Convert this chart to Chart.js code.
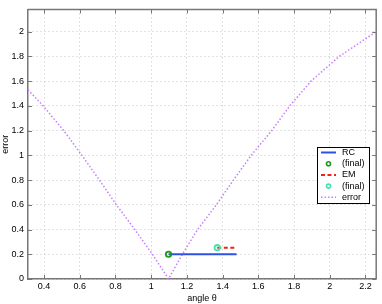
<!DOCTYPE html>
<html>
<head>
<meta charset="utf-8">
<script src="https://cdn.jsdelivr.net/npm/chart.js@4"></script>
<style>
  body { margin: 0; background: #fff; }
</style>
</head>
<body>
<canvas id="chart-error" width="382" height="304"></canvas>
<script>
// values
const errTheta = [0.31, 0.395, 0.51, 0.612, 0.71, 0.805, 0.908, 1.007, 1.097,
                  1.174, 1.26, 1.365, 1.46, 1.56, 1.675, 1.776, 1.895, 2.053, 2.26];
const errValue = [1.53, 1.40, 1.20, 1.00, 0.80, 0.60, 0.40, 0.20, 0.00,
                  0.20, 0.40, 0.60, 0.80, 1.00, 1.20, 1.40, 1.60, 1.80, 2.00];
const rcTheta = [1.097, 1.478];
const rcError = [0.2, 0.2];
const rcFinalTheta = [1.097];
const rcFinalError = [0.2];
const emTheta = [1.37, 1.478];
const emError = [0.253, 0.253];
const emFinalTheta = [1.37];
const emFinalError = [0.253];
const xTicks = [0.4, 0.6, 0.8, 1, 1.2, 1.4, 1.6, 1.8, 2, 2.2];
const yTicks = [0, 0.2, 0.4, 0.6, 0.8, 1, 1.2, 1.4, 1.6, 1.8, 2];
const xMin = 0.31, xMax = 2.26, yMin = 0, yMax = 2.18;

const pts = (xs, ys) => xs.map((x, i) => ({ x: x, y: ys[i] }));
const tickFont = { family: "'Liberation Sans', Arial, sans-serif", size: 9 };
const frameColor = "#777";

// top/right box + inward tick marks like the original
const framePlugin = {
    id: "frame",
    afterDatasetsDraw(chart) {
        const { ctx, chartArea: a, scales } = chart;
        ctx.save();
        ctx.strokeStyle = frameColor;
        ctx.lineWidth = 1.5;
        ctx.beginPath();
        ctx.moveTo(a.left, a.top);
        ctx.lineTo(a.right, a.top);
        ctx.lineTo(a.right, a.bottom);
        ctx.stroke();
        ctx.lineWidth = 1;
        ctx.beginPath();
        xTicks.forEach((v) => {
            const px = Math.round(scales.x.getPixelForValue(v)) + 0.5;
            ctx.moveTo(px, a.bottom); ctx.lineTo(px, a.bottom - 4);
            ctx.moveTo(px, a.top); ctx.lineTo(px, a.top + 4);
        });
        yTicks.forEach((v) => {
            const py = Math.round(scales.y.getPixelForValue(v)) + 0.5;
            ctx.moveTo(a.left, py); ctx.lineTo(a.left + 4, py);
            ctx.moveTo(a.right, py); ctx.lineTo(a.right - 4, py);
        });
        ctx.stroke();
        ctx.restore();
    },
};

// boxed legend inside the plot, right side
const legendPlugin = {
    id: "boxLegend",
    afterDraw(chart) {
        const ctx = chart.ctx;
        const bx = 317, by = 147, bw = 52, bh = 56, row = 11.2;
        ctx.save();
        ctx.fillStyle = "#fff";
        ctx.fillRect(bx, by, bw, bh);
        ctx.strokeStyle = "#000";
        ctx.lineWidth = 1;
        ctx.strokeRect(bx + 0.5, by + 0.5, bw, bh);
        ctx.font = "9px 'Liberation Sans', Arial, sans-serif";
        ctx.textBaseline = "middle";
        ctx.fillStyle = "#000";
        chart.data.datasets.forEach((ds, i) => {
            const y = by + 5.5 + i * row;
            if (ds.showLine) {
                ctx.strokeStyle = ds.borderColor;
                ctx.lineWidth = ds.borderWidth;
                ctx.setLineDash(ds.borderDash || []);
                ctx.beginPath();
                ctx.moveTo(321, y);
                ctx.lineTo(336, y);
                ctx.stroke();
                ctx.setLineDash([]);
            } else {
                ctx.strokeStyle = ds.pointBorderColor;
                ctx.lineWidth = 1.6;
                ctx.beginPath();
                ctx.arc(328.5, y, 2, 0, Math.PI * 2);
                ctx.stroke();
            }
            ctx.fillText(ds.label, 342, y);
        });
        ctx.restore();
    },
};

new Chart(document.getElementById("chart-error"), {
    type: "scatter",
    data: {
        datasets: [
            {
                label: "RC",
                data: pts(rcTheta, rcError),
                showLine: true,
                borderColor: "#2f4fe6",
                borderWidth: 2,
                pointRadius: 0,
                order: 1,
            },
            {
                label: "(final)",
                data: pts(rcFinalTheta, rcFinalError),
                showLine: false,
                pointRadius: 2.7,
                pointBorderWidth: 1.8,
                pointBorderColor: "#1a9a1a",
                pointBackgroundColor: "rgba(0,0,0,0)",
                order: 0,
            },
            {
                label: "EM",
                data: pts(emTheta, emError),
                showLine: true,
                borderColor: "#ee2222",
                borderWidth: 2,
                borderDash: [4, 2.5],
                pointRadius: 0,
                order: 1,
            },
            {
                label: "(final)",
                data: pts(emFinalTheta, emFinalError),
                showLine: false,
                pointRadius: 2.7,
                pointBorderWidth: 1.8,
                pointBorderColor: "#3ee8a8",
                pointBackgroundColor: "rgba(0,0,0,0)",
                order: 0,
            },
            {
                label: "error",
                data: pts(errTheta, errValue),
                showLine: true,
                borderColor: "#c77dff",
                borderWidth: 1.5,
                borderDash: [1.5, 2],
                pointRadius: 0,
                order: 2,
            },
        ],
    },
    options: {
        responsive: false,
        animation: false,
        layout: { padding: { top: 3, right: 3, left: 0, bottom: 0 } },
        plugins: { legend: { display: false }, tooltip: { enabled: false } },
        scales: {
            x: {
                type: "linear",
                min: xMin,
                max: xMax,
                afterBuildTicks: (s) => { s.ticks = xTicks.map((v) => ({ value: v })); },
                afterFit: (s) => { s.height = 25; },
                ticks: { font: tickFont, color: "#000", padding: 2, autoSkip: false, maxRotation: 0, callback: (v) => String(v) },
                grid: { color: "#c4c4c4", drawTicks: false, lineWidth: 1 },
                border: { display: true, color: frameColor, width: 1.5, dash: [1, 3] },
                title: { display: true, text: "angle θ", font: tickFont, color: "#000", padding: 0 },
            },
            y: {
                type: "linear",
                min: yMin,
                max: yMax,
                afterBuildTicks: (s) => { s.ticks = yTicks.map((v) => ({ value: v })); },
                afterFit: (s) => { s.width = 28; },
                ticks: { font: tickFont, color: "#000", padding: 4, autoSkip: false, callback: (v) => String(v) },
                grid: { color: "#c4c4c4", drawTicks: false, lineWidth: 1 },
                border: { display: true, color: frameColor, width: 1.5, dash: [1, 3] },
                title: { display: true, text: "error", font: tickFont, color: "#000", padding: 0 },
            },
        },
    },
    plugins: [framePlugin, legendPlugin],
});
</script>
</body>
</html>
